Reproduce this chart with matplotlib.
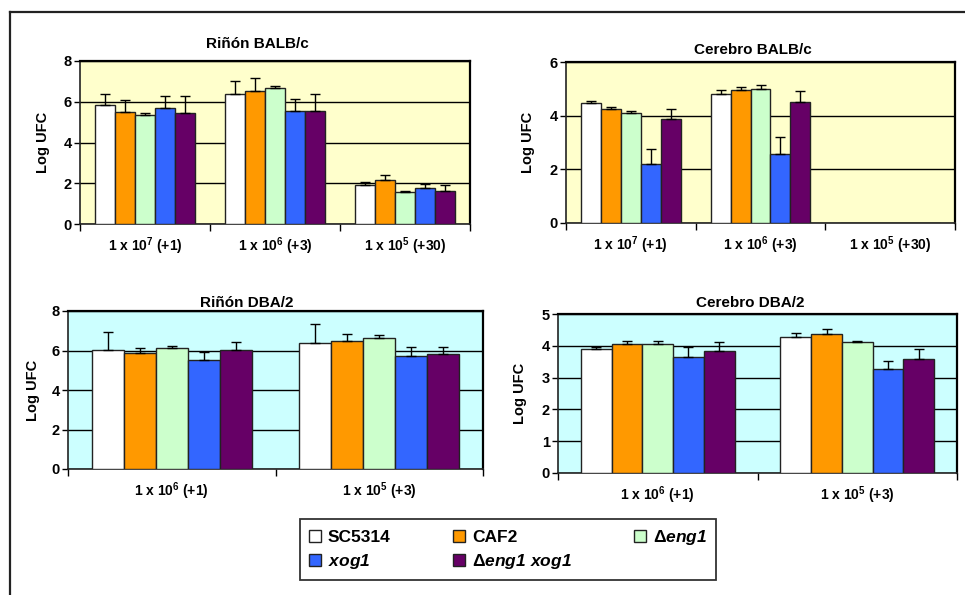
import matplotlib
matplotlib.use("Agg")
import matplotlib.pyplot as plt
import numpy as np
from matplotlib.lines import Line2D
from matplotlib.patches import Patch

plt.rcParams['font.family'] = ['Liberation Sans', 'DejaVu Sans']
plt.rcParams['font.weight'] = 'bold'
plt.rcParams['mathtext.fontset'] = 'custom'
plt.rcParams['mathtext.rm'] = 'Liberation Sans:bold'
plt.rcParams['mathtext.it'] = 'Liberation Sans:bold:italic'
plt.rcParams['mathtext.bf'] = 'Liberation Sans:bold'
plt.rcParams['mathtext.sf'] = 'Liberation Sans:bold:italic'

# ---------------- data ----------------
strains = ['SC5314', 'CAF2', r'$\Delta\mathsf{eng1}$', r'$\mathsf{xog1}$', r'$\Delta\mathsf{eng1\ xog1}$']
colors = ['#FFFFFF', '#FF9900', '#CCFFCC', '#3366FF', '#660066']

titles = ['Riñón BALB/c', 'Cerebro BALB/c', 'Riñón DBA/2', 'Cerebro DBA/2']

cats_balb = [r'1 x 10$^{7}$ (+1)', r'1 x 10$^{6}$ (+3)', r'1 x 10$^{5}$ (+30)']
cats_dba = [r'1 x 10$^{6}$ (+1)', r'1 x 10$^{5}$ (+3)']

# values [category][strain]
rinon_balb = [[5.84, 5.51, 5.35, 5.71, 5.45],
              [6.39, 6.53, 6.66, 5.57, 5.57],
              [1.90, 2.16, 1.57, 1.77, 1.61]]
rinon_balb_top = [[6.36, 6.07, 5.45, 6.26, 6.26],
                  [7.02, 7.18, 6.75, 6.13, 6.39],
                  [2.07, 2.39, 1.64, 1.97, 1.90]]

cerebro_balb = [[4.46, 4.24, 4.09, 2.20, 3.89],
                [4.81, 4.96, 5.01, 2.57, 4.51],
                [0, 0, 0, 0, 0]]
cerebro_balb_top = [[4.56, 4.31, 4.19, 2.75, 4.24],
                    [4.96, 5.08, 5.13, 3.19, 4.91],
                    [0, 0, 0, 0, 0]]

rinon_dba = [[6.01, 5.88, 6.11, 5.51, 6.01],
             [6.38, 6.48, 6.62, 5.74, 5.84]]
rinon_dba_top = [[6.92, 6.15, 6.25, 5.91, 6.42],
                 [7.36, 6.86, 6.76, 6.18, 6.18]]

cerebro_dba = [[3.91, 4.06, 4.06, 3.64, 3.83],
               [4.29, 4.37, 4.12, 3.26, 3.59]]
cerebro_dba_top = [[3.97, 4.16, 4.14, 3.95, 4.12],
                   [4.39, 4.52, 4.16, 3.53, 3.91]]

ymax = [8, 6, 8, 5]
ystep = [2, 2, 2, 1]

W, H = 965, 595
fig = plt.figure(figsize=(W / 100, H / 100), dpi=100)

def fr(x0, y0, x1, y1):
    return [x0 / W, 1 - y1 / H, (x1 - x0) / W, (y1 - y0) / H]

boxes = [fr(80, 61, 470, 224), fr(566, 62, 955, 223), fr(68, 311, 483, 469), fr(558, 314, 957, 473)]
bgs = ['#FFFFCC', '#FFFFCC', '#CCFFFF', '#CCFFFF']
datasets = [(rinon_balb, rinon_balb_top, cats_balb),
            (cerebro_balb, cerebro_balb_top, cats_balb),
            (rinon_dba, rinon_dba_top, cats_dba),
            (cerebro_dba, cerebro_dba_top, cats_dba)]
title_pos = [(257, 44), (753, 50), (247, 303), (750, 303)]
ylab_x = [43, 528, 33, 520]

group = 0.77
bw = group / len(strains)

for i, (box, bg, (vals, tops, cats)) in enumerate(zip(boxes, bgs, datasets)):
    ax = fig.add_axes(box)
    ax.set_facecolor(bg)
    vals = np.array(vals)
    tops = np.array(tops)
    ncat = len(cats)
    x = np.arange(ncat)
    for s in range(len(strains)):
        xs = x - group / 2 + bw * (s + 0.5)
        ax.bar(xs, vals[:, s], width=bw, color=colors[s], edgecolor='#222222',
               linewidth=1.0, zorder=3)
        m = vals[:, s] > 0
        err = tops[:, s] - vals[:, s]
        ax.errorbar(xs[m], vals[m, s], yerr=[np.zeros(m.sum()), err[m]], fmt='none',
                    ecolor='black', elinewidth=1.0, capsize=3.5, capthick=1.0, zorder=4)
    ax.set_xlim(-0.5, ncat - 0.5)
    ax.set_ylim(0, ymax[i])
    ax.set_yticks(np.arange(0, ymax[i] + 0.01, ystep[i]))
    ax.yaxis.grid(True, color='black', linewidth=1.0, zorder=0)
    ax.set_axisbelow(True)
    ax.set_xticks(np.arange(ncat + 1) - 0.5)
    ax.set_xticklabels([])
    ax.set_xticks(x, minor=True)
    ax.set_xticklabels(cats, minor=True, fontsize=10, fontweight='bold')
    ax.tick_params(axis='x', which='major', direction='out', length=5, width=1)
    ax.tick_params(axis='x', which='minor', length=0, pad=8)
    ax.tick_params(axis='y', direction='out', length=4, width=1, labelsize=10.5, pad=2)
    for lab in ax.get_yticklabels():
        lab.set_fontweight('bold')
    for sp in ['top', 'right']:
        ax.spines[sp].set_linewidth(1.6)
        ax.spines[sp].set_color('black')
    for sp in ['left', 'bottom']:
        ax.spines[sp].set_linewidth(1.2)
        ax.spines[sp].set_color('#222222')
    tx, ty = title_pos[i]
    fig.text(tx / W, 1 - ty / H, titles[i], ha='center', va='center',
             fontsize=11, fontweight='bold')
    cy = box[1] + box[3] / 2
    fig.text(ylab_x[i] / W, cy, 'Log UFC', rotation=90, ha='center', va='center',
             fontsize=10.5, fontweight='bold')

# outer frame lines
fig.add_artist(Line2D([10 / W, 10 / W], [0, 1 - 12 / H], color='#222222', linewidth=1.6))
fig.add_artist(Line2D([10 / W, 1], [1 - 12 / H, 1 - 12 / H], color='#222222', linewidth=1.6))

# legend (row-major order in a 3-column layout)
order = [0, 3, 1, 4, 2]
handles = [Patch(facecolor=colors[k], edgecolor='#222222', linewidth=1.0) for k in order]
labels = [strains[k] for k in order]
lx0, ly0, lx1, ly1 = 300, 516, 716, 583
leg = fig.legend(handles, labels, ncol=3, loc='center left',
                 bbox_to_anchor=(lx0 / W, 1 - ly1 / H, (lx1 - lx0) / W, (ly1 - ly0) / H),
                 mode='expand', frameon=True, fancybox=False, shadow=False,
                 prop={'weight': 'bold', 'size': 12.5, 'family': 'Liberation Sans'},
                 handlelength=0.7, handleheight=0.7, handletextpad=0.4,
                 labelspacing=0.4, borderaxespad=0, borderpad=0.5, columnspacing=1.0)
leg.get_frame().set_edgecolor('black')
leg.get_frame().set_linewidth(1.3)

fig.savefig('out.png', dpi=100)
